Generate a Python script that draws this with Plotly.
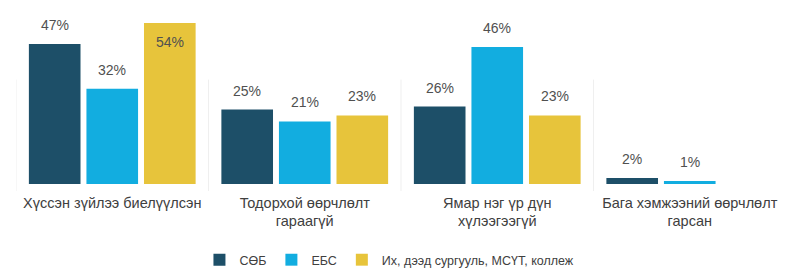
import plotly.graph_objects as go

categories = ["Хүссэн зүйлээ биелүүлсэн", "Тодорхой өөрчлөлт<br>гараагүй",
              "Ямар нэг үр дүн<br>хүлээгээгүй", "Бага хэмжээний өөрчлөлт<br>гарсан"]
series_names = ["СӨБ", "ЕБС", "Их, дээд сургууль, МСҮТ, коллеж"]
sob = [47, 25, 26, 2]
ebs = [32, 21, 46, 1]
ikh = [54, 23, 23, None]
colors = ["#1d4f68", "#12ade0", "#e7c43b"]

# page body has an 8px default margin, so the figure is a little smaller
L, R, T, B = 8, 0, 2, 87
W, H = 778, 263
BARGAP = 0.103
GROUPGAP = 0.103
YMAX = 58.4

fig = go.Figure()
all_vals = [sob, ebs, ikh]
for name, vals, col in zip(series_names, all_vals, colors):
    fig.add_trace(go.Bar(x=categories, y=vals, name=name, marker_color=col,
                         marker_line_width=0, hoverinfo="skip"))

plot_w = W - L - R
slot = plot_w / len(categories) * (1 - BARGAP) / 3
annotations = []
for si, vals in enumerate(all_vals):
    for ci, v in enumerate(vals):
        if v is None:
            continue
        inside = v >= 50
        annotations.append(dict(
            x=categories[ci], y=v, text=f"{v}%", showarrow=False,
            xshift=(si - 1) * slot, yshift=-19 if inside else 19,
            yanchor="middle", xanchor="center",
            font=dict(size=14, color="#505050", family="Liberation Sans, Arial, sans-serif")))

shapes = []
for k in range(len(categories)):
    shapes.append(dict(type="line", xref="x", yref="paper", x0=k - 0.5, x1=k - 0.5,
                       y0=-0.04, y1=0.6, line=dict(color="#efefef", width=1)))

fig.update_layout(
    width=W, height=H,
    margin=dict(l=L, r=R, t=T, b=B, autoexpand=False),
    barmode="group", bargap=BARGAP, bargroupgap=GROUPGAP,
    plot_bgcolor="white", paper_bgcolor="white",
    font=dict(family="Liberation Sans, Arial, sans-serif", size=12, color="#404040"),
    xaxis=dict(showgrid=False, showline=False, ticks="", tickfont=dict(size=14.5, color="#404040"),
               range=[-0.5, 3.5], automargin=False, ticklabelstandoff=8),
    yaxis=dict(visible=False, range=[0, YMAX], showgrid=False, zeroline=False),
    legend=dict(orientation="h", x=0.485, xanchor="center", y=-0.437, yanchor="middle",
                font=dict(size=12.5, color="#404040"), itemwidth=30, traceorder="normal"),
    annotations=annotations, shapes=shapes,
    showlegend=True,
)

fig.write_html("out.html")
